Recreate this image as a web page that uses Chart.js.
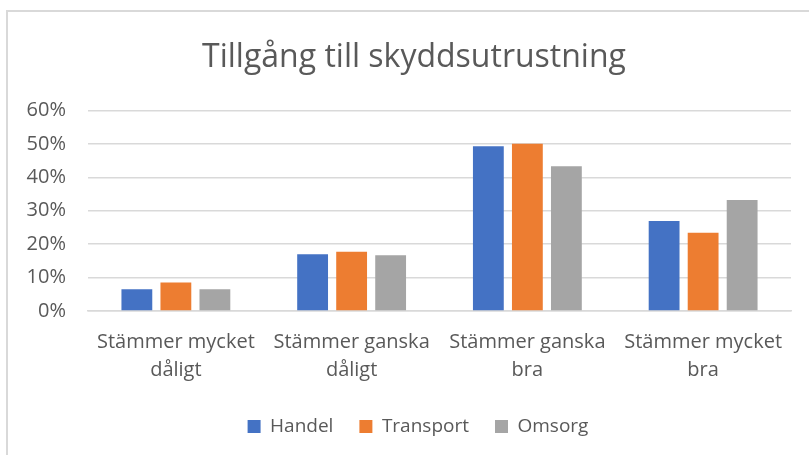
<!DOCTYPE html>
<html lang="sv">
<head>
  <meta charset="UTF-8" />
  <title>Tillgång till skyddsutrustning</title>
  <script src="https://cdn.jsdelivr.net/npm/chart.js"></script>
  <style>
    html, body { margin: 0; padding: 0; background: #fff; }
    #wrap { position: relative; width: 809px; height: 455px; overflow: hidden; }
    #frame { position: absolute; left: 6px; top: 10px; width: 820px; height: 460px;
             border-top: 2px solid #d9d9d9; border-left: 2px solid #d9d9d9; box-sizing: border-box; }
    canvas { position: absolute; left: 0; top: 0; }
  </style>
</head>
<body>
  <div id="wrap">
    <div id="frame"></div>
    <canvas id="chart" width="809" height="455"></canvas>
  </div>

  <script>
    const categories = [
      ['Stämmer mycket', 'dåligt'],
      ['Stämmer ganska', 'dåligt'],
      ['Stämmer ganska', 'bra'],
      ['Stämmer mycket', 'bra']
    ];
    const handel = [6.5, 17.0, 49.3, 26.9];
    const transport = [8.5, 17.7, 50.0, 23.4];
    const omsorg = [6.5, 16.7, 43.3, 33.2];
    const yTicks = [0, 10, 20, 30, 40, 50, 60];

    const textColor = '#595959';
    const font = 'Open Sans';

    // the frame is wider than the plot, so title and legend sit a bit right of the plot centre
    const shiftBlocks = {
      id: 'shiftBlocks',
      afterLayout(chart) {
        chart.titleBlock.left = 37;
        chart.legend.left = 45;
      }
    };

    new Chart(document.getElementById('chart').getContext('2d'), {
      type: 'bar',
      data: {
        labels: categories,
        datasets: [
          { label: 'Handel', data: handel, backgroundColor: '#4472C4' },
          { label: 'Transport', data: transport, backgroundColor: '#ED7D31' },
          { label: 'Omsorg', data: omsorg, backgroundColor: '#A5A5A5' }
        ]
      },
      plugins: [shiftBlocks],
      options: {
        responsive: false,
        animation: false,
        categoryPercentage: 0.666,
        barPercentage: 0.79,
        layout: { padding: { left: 0, right: 18, top: 0, bottom: 9 } },
        plugins: {
          title: {
            display: true,
            text: 'Tillgång till skyddsutrustning',
            color: textColor,
            font: { family: font, size: 32, weight: 'normal' },
            padding: { top: 39, bottom: 33 }
          },
          legend: {
            position: 'bottom',
            labels: {
              color: textColor,
              font: { family: font, size: 19 },
              boxWidth: 13,
              boxHeight: 13,
              padding: 26
            }
          },
          tooltip: { enabled: false }
        },
        scales: {
          x: {
            grid: { display: false },
            border: { color: '#d9d9d9', width: 1.5 },
            ticks: { color: textColor, font: { family: font, size: 20, lineHeight: 1.4 }, padding: 9, maxRotation: 0 },
            afterFit: (s) => { s.height = 80; }
          },
          y: {
            min: 0,
            max: 60,
            afterBuildTicks: (s) => { s.ticks = yTicks.map(v => ({ value: v })); },
            grid: { color: '#d9d9d9', lineWidth: 1.5, drawTicks: false },
            border: { display: false },
            ticks: {
              color: textColor,
              font: { family: font, size: 20 },
              padding: 22,
              callback: (v) => v + '%'
            },
            afterFit: (s) => { s.width = 88; }
          }
        }
      }
    });
  </script>
</body>
</html>
